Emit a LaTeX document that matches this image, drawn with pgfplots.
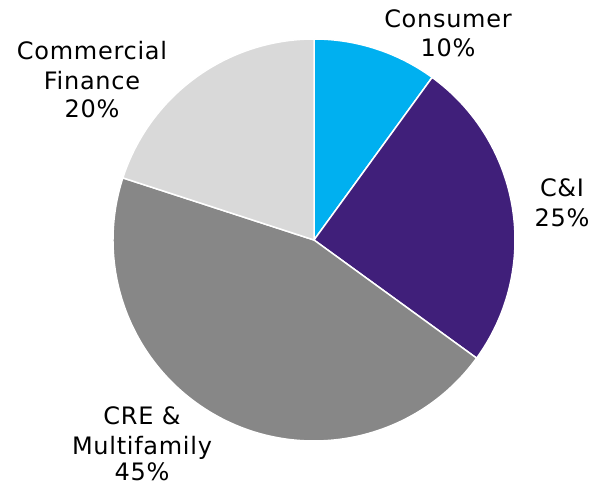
\documentclass[border=0pt]{standalone}
\usepackage{fontspec}
\setmainfont{DejaVu Sans}[LetterSpace=3]
\usepackage{pgfplots}
\usepackage{pgfplotstable}
\pgfplotsset{compat=1.18}

\definecolor{cons}{HTML}{00B0F0}
\definecolor{cni}{HTML}{401F7A}
\definecolor{cre}{HTML}{878787}
\definecolor{cf}{HTML}{D9D9D9}

% share of portfolio, clockwise from 12 o'clock
\pgfplotstableread{
share col
10 cons
25 cni
45 cre
20 cf
}\sharetable

\begin{document}
\begin{tikzpicture}
\begin{axis}[
  width=598pt, height=486pt, scale only axis,
  xmin=0, xmax=598, ymin=0, ymax=486,
  hide axis, clip=false,
]
\pgfplotstablegetrowsof{\sharetable}
\pgfmathtruncatemacro{\nrows}{\pgfplotsretval-1}
\def\startang{90}
\pgfplotsforeachungrouped \i in {0,...,\nrows}{
  \pgfplotstablegetelem{\i}{share}\of{\sharetable}\let\v\pgfplotsretval
  \pgfplotstablegetelem{\i}{col}\of{\sharetable}\let\c\pgfplotsretval
  \pgfmathsetmacro{\endang}{\startang-3.6*\v}
  \edef\temp{\noexpand\fill[\c, draw=white, line width=1.5pt, line join=round]
    (axis cs:314,246) -- ++(\startang:201pt)
    arc[start angle=\startang, end angle=\endang, radius=201pt] -- cycle;}
  \temp
  \global\let\startang\endang
}
\begin{scope}[every node/.style={anchor=base, inner sep=0pt, font=\fontsize{24}{30}\selectfont}]
\node at (axis cs:448,458) {Consumer};
\node at (axis cs:448,429) {10\%};
\node at (axis cs:562,289) {C\&I};
\node at (axis cs:562,259) {25\%};
\node at (axis cs:92,426) {Commercial};
\node at (axis cs:92,396) {Finance};
\node at (axis cs:92,368) {20\%};
\node at (axis cs:142,61) {CRE \&};
\node at (axis cs:142,31) {Multifamily};
\node at (axis cs:142,5) {45\%};
\end{scope}
\end{axis}
\pgfresetboundingbox
\path (current axis.south west) rectangle (current axis.north east);
\end{tikzpicture}
\end{document}
